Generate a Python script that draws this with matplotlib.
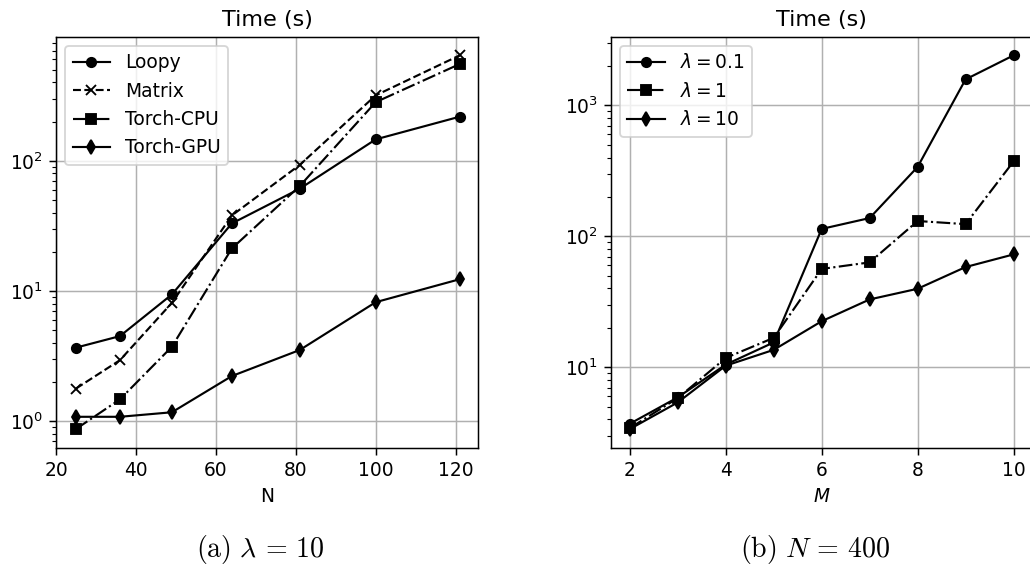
#!/usr/bin/env python3
"""
Timing comparison: solver back-ends vs N, and lambda sweep vs M
"""
import matplotlib
matplotlib.use('Agg')
import matplotlib.pyplot as plt

n_values = [25, 36, 49, 64, 81, 100, 121]
loopy = [3.67, 4.5, 9.4, 33, 61, 146, 218]
matrix = [1.78, 2.94, 8.1, 38, 93, 318, 645]
torch_cpu = [0.87, 1.47, 3.73, 21.2, 64, 282, 553]
torch_gpu = [1.08, 1.08, 1.17, 2.22, 3.52, 8.2, 12.3]

m_values = [2, 3, 4, 5, 6, 7, 8, 9, 10]
lam_01 = [3.71, 5.9, 10.5, 15.5, 114, 138, 339, 1580, 2410]
lam_1 = [3.44, 5.83, 11.8, 16.8, 56.4, 63.3, 131, 124, 373]
lam_10 = [3.38, 5.4, 10.3, 13.6, 22.5, 33, 39.8, 58.3, 72.8]


def main():
    dpi = 134
    W, H = 1030.0, 567.0
    plt.rcParams['lines.linewidth'] = 1.15
    plt.rcParams['lines.markersize'] = 5
    fig = plt.figure(figsize=(W / dpi, H / dpi), dpi=dpi)

    ax1 = fig.add_axes([56 / W, 1 - 447.7 / H, 422 / W, 411 / H])
    ax1.plot(n_values, loopy, 'k-o', label='Loopy')
    ax1.plot(n_values, matrix, 'k--x', label='Matrix')
    ax1.plot(n_values, torch_cpu, 'k-.s', label='Torch-CPU')
    ax1.plot(n_values, torch_gpu, 'k-d', label='Torch-GPU')
    ax1.set_yscale('log')
    ax1.set_xlim(20, 125.6)
    ax1.grid(True)
    ax1.set_xlabel('N')
    ax1.set_title('Time (s)')
    ax1.legend(loc='upper left')

    ax2 = fig.add_axes([610.7 / W, 1 - 447.7 / H, 422 / W, 411 / H])
    ax2.plot(m_values, lam_01, 'k-o', label=r'$\lambda = 0.1$')
    ax2.plot(m_values, lam_1, 'k-.s', label=r'$\lambda = 1$')
    ax2.plot(m_values, lam_10, 'k-d', label=r'$\lambda = 10$')
    ax2.set_yscale('log')
    ax2.grid(True)
    ax2.set_xlabel(r'$M$')
    ax2.set_title('Time (s)')
    ax2.legend(loc='upper left')

    fig.text(260.5 / W, 1 - 550 / H, r'$\mathrm{(a)}\ \lambda\,=\,10$',
             ha='center', va='center', fontsize=15, math_fontfamily='cm')
    fig.text(815 / W, 1 - 550 / H, r'$\mathrm{(b)}\ N\,=\,400$',
             ha='center', va='center', fontsize=15, math_fontfamily='cm')

    fig.savefig('out.png', dpi=dpi)


if __name__ == '__main__':
    main()
